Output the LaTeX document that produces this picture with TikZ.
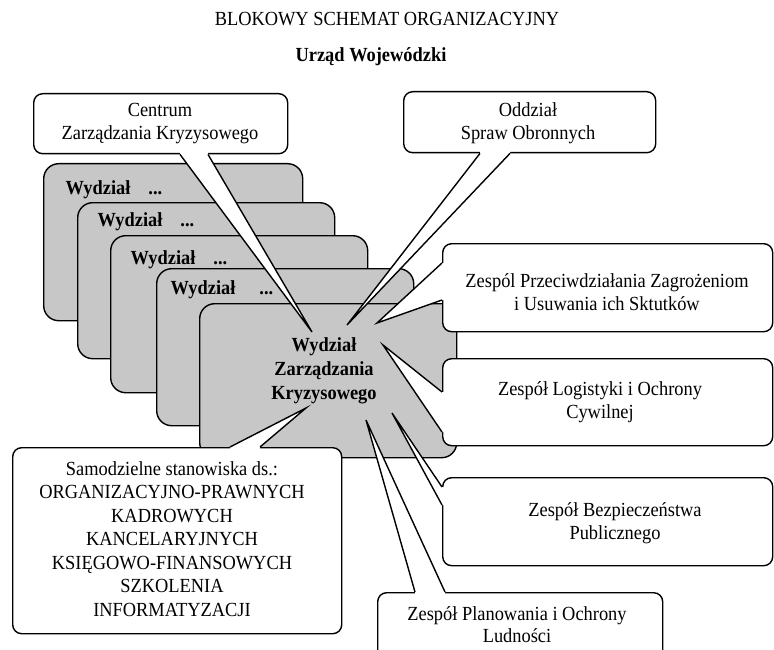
\documentclass[tikz,border=0pt]{standalone}
\usepackage{fontspec}
\setmainfont{Liberation Serif}[FakeStretch=0.92]
\usetikzlibrary{calc}
\begin{document}
\begin{tikzpicture}[x=1pt,y=-1pt,line width=1.4pt,
  wbox/.style={draw,fill=black!22,rounded corners=15pt,inner sep=0pt},
  cbox/.style={draw,fill=white,rounded corners=9pt,inner sep=0pt,anchor=north west},
  txt/.style={align=center,inner sep=0pt,font=\fontsize{20}{23}\selectfont},
  btxt/.style={align=center,inner sep=0pt,font=\fontsize{20}{24}\selectfont\bfseries},
  tailfill/.style={fill=white,draw=none},
  tail/.style={draw,line join=miter}]
\useasboundingbox (0,0) rectangle (774,650);
\clip (0,0) rectangle (774,650);

% titles
\node[txt,anchor=base] (title) at (387,26) {BLOKOWY SCHEMAT ORGANIZACYJNY};
\node[btxt,anchor=base] (urzad) at (371,62) {Urząd Wojewódzki};

% stacked Wydzial boxes
\node[wbox,anchor=north west,minimum width=259pt,minimum height=157pt] (w1) at (43,163) {};
\node[btxt,anchor=base west] (w1l) at (65,194) {Wydział\hspace{0.9em}...};
\node[wbox,anchor=north west,minimum width=257pt,minimum height=156pt] (w2) at (77,202) {};
\node[btxt,anchor=base west] (w2l) at (97,226) {Wydział\hspace{0.9em}...};
\node[wbox,anchor=north west,minimum width=257pt,minimum height=157pt] (w3) at (110,235) {};
\node[btxt,anchor=base west] (w3l) at (130,264) {Wydział\hspace{0.9em}...};
\node[wbox,anchor=north west,minimum width=257pt,minimum height=157pt] (w4) at (156,268) {};
\node[btxt,anchor=base west] (w4l) at (170,294) {Wydział\hspace{1.2em}...};
\node[wbox,anchor=north west,minimum width=257pt,minimum height=154pt] (w5) at (199,303) {};
\node[btxt] (w5t) at (324,371) {Wydział\\Zarządzania\\Kryzysowego};

% Centrum Zarzadzania Kryzysowego
\node[cbox,minimum width=254pt,minimum height=60pt] (cent) at (33,93) {};
\coordinate (centA) at ($(cent.south west)+(147,0)$);
\coordinate (centB) at ($(cent.south west)+(175,0)$);
\coordinate (centTip) at (312,332);
\fill[tailfill] (centA) -- (centTip) -- (centB) -- ($(centB)+(0,-2.5)$) -- ($(centA)+(0,-2.5)$) -- cycle;
\draw[tail] (centA) -- (centTip) -- (centB);
\node[txt] (centT) at (160,123.5) {Centrum\\Zarządzania Kryzysowego};

% Oddzial Spraw Obronnych
\node[cbox,minimum width=252pt,minimum height=61pt] (odd) at (403,91) {};
\coordinate (oddA) at ($(odd.south west)+(77,0)$);
\coordinate (oddB) at ($(odd.south west)+(107,0)$);
\coordinate (oddTip) at (347,325);
\fill[tailfill] (oddA) -- (oddTip) -- (oddB) -- ($(oddB)+(0,-2.5)$) -- ($(oddA)+(0,-2.5)$) -- cycle;
\draw[tail] (oddA) -- (oddTip) -- (oddB);
\node[txt] (oddT) at (528,123.5) {Oddział\\Spraw Obronnych};

% Zespol Przeciwdzialania
\node[cbox,minimum width=330pt,minimum height=88pt] (prz) at (442,243) {};
\coordinate (przA) at ($(prz.north west)+(0,20)$);
\coordinate (przB) at ($(prz.north west)+(0,57)$);
\coordinate (przTip) at (377,323);
\fill[tailfill] (przA) -- (przTip) -- (przB) -- ($(przB)+(2.5,0)$) -- ($(przA)+(2.5,0)$) -- cycle;
\draw[tail] (przA) -- (przTip) -- (przB);
\node[txt] (przT) at (607,292) {Zespól Przeciwdziałania Zagrożeniom\\i Usuwania ich Sktutków};

% Zespol Logistyki
\node[cbox,minimum width=330pt,minimum height=87pt] (log) at (442,358) {};
\coordinate (logA) at ($(log.north west)+(0,34)$);
\coordinate (logB) at ($(log.north west)+(0,74)$);
\coordinate (logTip) at (383,345);
\fill[tailfill] (logA) -- (logTip) -- (logB) -- ($(logB)+(2.5,0)$) -- ($(logA)+(2.5,0)$) -- cycle;
\draw[tail] (logA) -- (logTip) -- (logB);
\node[txt] (logT) at (600,402) {Zespół Logistyki i Ochrony\\Cywilnej};

% Zespol Bezpieczenstwa
\node[cbox,minimum width=330pt,minimum height=88pt] (bez) at (442,477) {};
\coordinate (bezA) at ($(bez.north west)+(0,10)$);
\coordinate (bezB) at ($(bez.north west)+(0,28)$);
\coordinate (bezTip) at (392,413);
\fill[tailfill] (bezA) -- (bezTip) -- (bezB) -- ($(bezB)+(2.5,0)$) -- ($(bezA)+(2.5,0)$) -- cycle;
\draw[tail] (bezA) -- (bezTip) -- (bezB);
\node[txt] (bezT) at (615,523.5) {Zespół Bezpieczeństwa\\Publicznego};

% Zespol Planowania
\node[cbox,minimum width=285pt,minimum height=90pt] (pla) at (377,592) {};
\coordinate (plaA) at ($(pla.north west)+(38,0)$);
\coordinate (plaB) at ($(pla.north west)+(68,0)$);
\coordinate (plaTip) at (366,420);
\fill[tailfill] (plaA) -- (plaTip) -- (plaB) -- ($(plaB)+(0,2.5)$) -- ($(plaA)+(0,2.5)$) -- cycle;
\draw[tail] (plaA) -- (plaTip) -- (plaB);
\node[txt,font=\fontsize{20}{22}\selectfont] (plaT) at (517,625) {Zespół Planowania i Ochrony\\Ludności};

% Samodzielne stanowiska
\node[cbox,minimum width=329pt,minimum height=186pt] (sam) at (12,447) {};
\coordinate (samA) at ($(sam.north west)+(218,0)$);
\coordinate (samB) at ($(sam.north west)+(248,0)$);
\coordinate (samTip) at (306,408);
\fill[tailfill] (samA) -- (samTip) -- (samB) -- ($(samB)+(0,2.5)$) -- ($(samA)+(0,2.5)$) -- cycle;
\draw[tail] (samA) -- (samTip) -- (samB);
\node[txt,font=\fontsize{20}{23.5}\selectfont] (samT) at (172,539) {Samodzielne stanowiska ds.:\\ORGANIZACYJNO-PRAWNYCH\\KADROWYCH\\KANCELARYJNYCH\\KSIĘGOWO-FINANSOWYCH\\SZKOLENIA\\INFORMATYZACJI};
\end{tikzpicture}
\end{document}
